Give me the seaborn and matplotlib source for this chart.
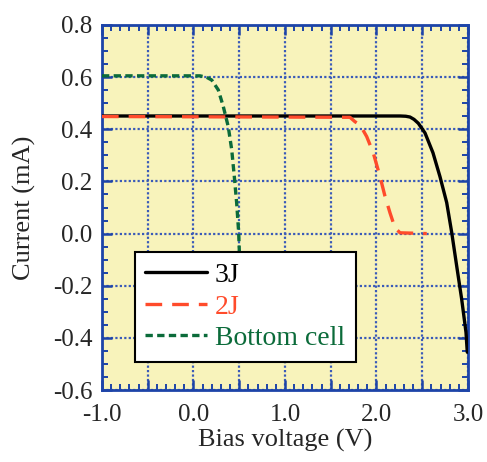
import numpy as np
import pandas as pd
import matplotlib
matplotlib.use('Agg')
import matplotlib.pyplot as plt
from matplotlib.ticker import MultipleLocator, FuncFormatter
import seaborn as sns

# I-V curves (bias voltage in V, current in mA)
v_3j = [-1.0, 2.0, 2.26, 2.32, 2.366, 2.41, 2.457, 2.53, 2.617, 2.694, 2.767, 2.822,
        2.877, 2.931, 2.978, 2.992]
i_3j = [0.451, 0.451, 0.451, 0.450, 0.447, 0.438, 0.423, 0.386, 0.310, 0.218, 0.119, 0.004,
        -0.126, -0.252, -0.379, -0.455]

v_2j = [-1.0, 1.71, 1.765, 1.82, 1.893, 1.965, 2.038, 2.093, 2.148, 2.202, 2.257, 2.549]
i_2j = [0.449, 0.446, 0.429, 0.417, 0.372, 0.309, 0.219, 0.143, 0.079, 0.022, 0.003, 0.0]

v_bot = [-1.0, 0.07, 0.14, 0.199, 0.271, 0.326, 0.38, 0.418, 0.446, 0.472, 0.494, 0.501, 0.505]
i_bot = [0.605, 0.605, 0.600, 0.589, 0.551, 0.487, 0.410, 0.321, 0.219, 0.117, 0.003, -0.068, -0.12]

labels = ['3J', '2J', 'Bottom cell']
colors = ['black', '#ff4b2b', '#0b6b3a']

sns.set_style('ticks')
plt.rcParams['font.family'] = ['Liberation Serif', 'DejaVu Serif']

blue = '#1d44a8'
fig = plt.figure(figsize=(4.87, 4.62), dpi=100)
ax = fig.add_axes([0.2094, 0.1558, 0.7516, 0.7901])
ax.set_facecolor('#f8f3bb')

sns.lineplot(x=v_3j, y=i_3j, ax=ax, color=colors[0], lw=2.4, label=labels[0], sort=False, zorder=3)
sns.lineplot(x=v_2j, y=i_2j, ax=ax, color=colors[1], lw=2.4, label=labels[1], sort=False, zorder=4)
ax.lines[-1].set_dashes([5, 3])
sns.lineplot(x=v_bot, y=i_bot, ax=ax, color=colors[2], lw=2.4, label=labels[2], sort=False, zorder=5)
ax.lines[-1].set_dashes([2.2, 1.3])
for ln in ax.lines:
    ln.set_solid_joinstyle('round')
    ln.set_dash_joinstyle('round')

ax.set_xlim(-1.0, 3.0)
ax.set_ylim(-0.6, 0.8)
ax.xaxis.set_major_locator(MultipleLocator(0.5))
ax.xaxis.set_minor_locator(MultipleLocator(0.1))
ax.yaxis.set_major_locator(MultipleLocator(0.2))
ax.yaxis.set_minor_locator(MultipleLocator(0.05))
ax.xaxis.set_major_formatter(FuncFormatter(lambda v, p: f'{v:.1f}' if abs(v - round(v)) < 1e-6 else ''))
ax.yaxis.set_major_formatter(FuncFormatter(lambda v, p: f'{v:.1f}'.replace('-0.0', '0.0')))

ax.grid(True, which='major', color='#3a5ab8', linestyle=(0, (1, 1)), lw=1.6, zorder=1)
ax.set_axisbelow(True)
ax.tick_params(which='both', direction='in', top=True, right=True, color=blue, labelsize=18)
ax.tick_params(axis='x', which='major', pad=10)
ax.tick_params(axis='y', which='major', pad=7)
ax.tick_params(which='major', length=7, width=1.8)
ax.tick_params(which='minor', length=4, width=1.4)
for s in ax.spines.values():
    s.set_color(blue)
    s.set_linewidth(2.0)

ax.set_xlabel('Bias voltage (V)', fontsize=19, labelpad=2)
ax.set_ylabel('Current (mA)', fontsize=19, labelpad=12)

leg = ax.legend(loc='upper left', bbox_to_anchor=(0.09, 0.378), borderaxespad=0,
                fontsize=20, frameon=True, fancybox=False, framealpha=1,
                edgecolor='black', handlelength=2.2, handletextpad=0.3,
                labelspacing=0.22, borderpad=0.38, labelcolor='linecolor')
leg.get_frame().set_linewidth(1.5)
leg.set_zorder(10)

fig.savefig('out.png', dpi=100)
